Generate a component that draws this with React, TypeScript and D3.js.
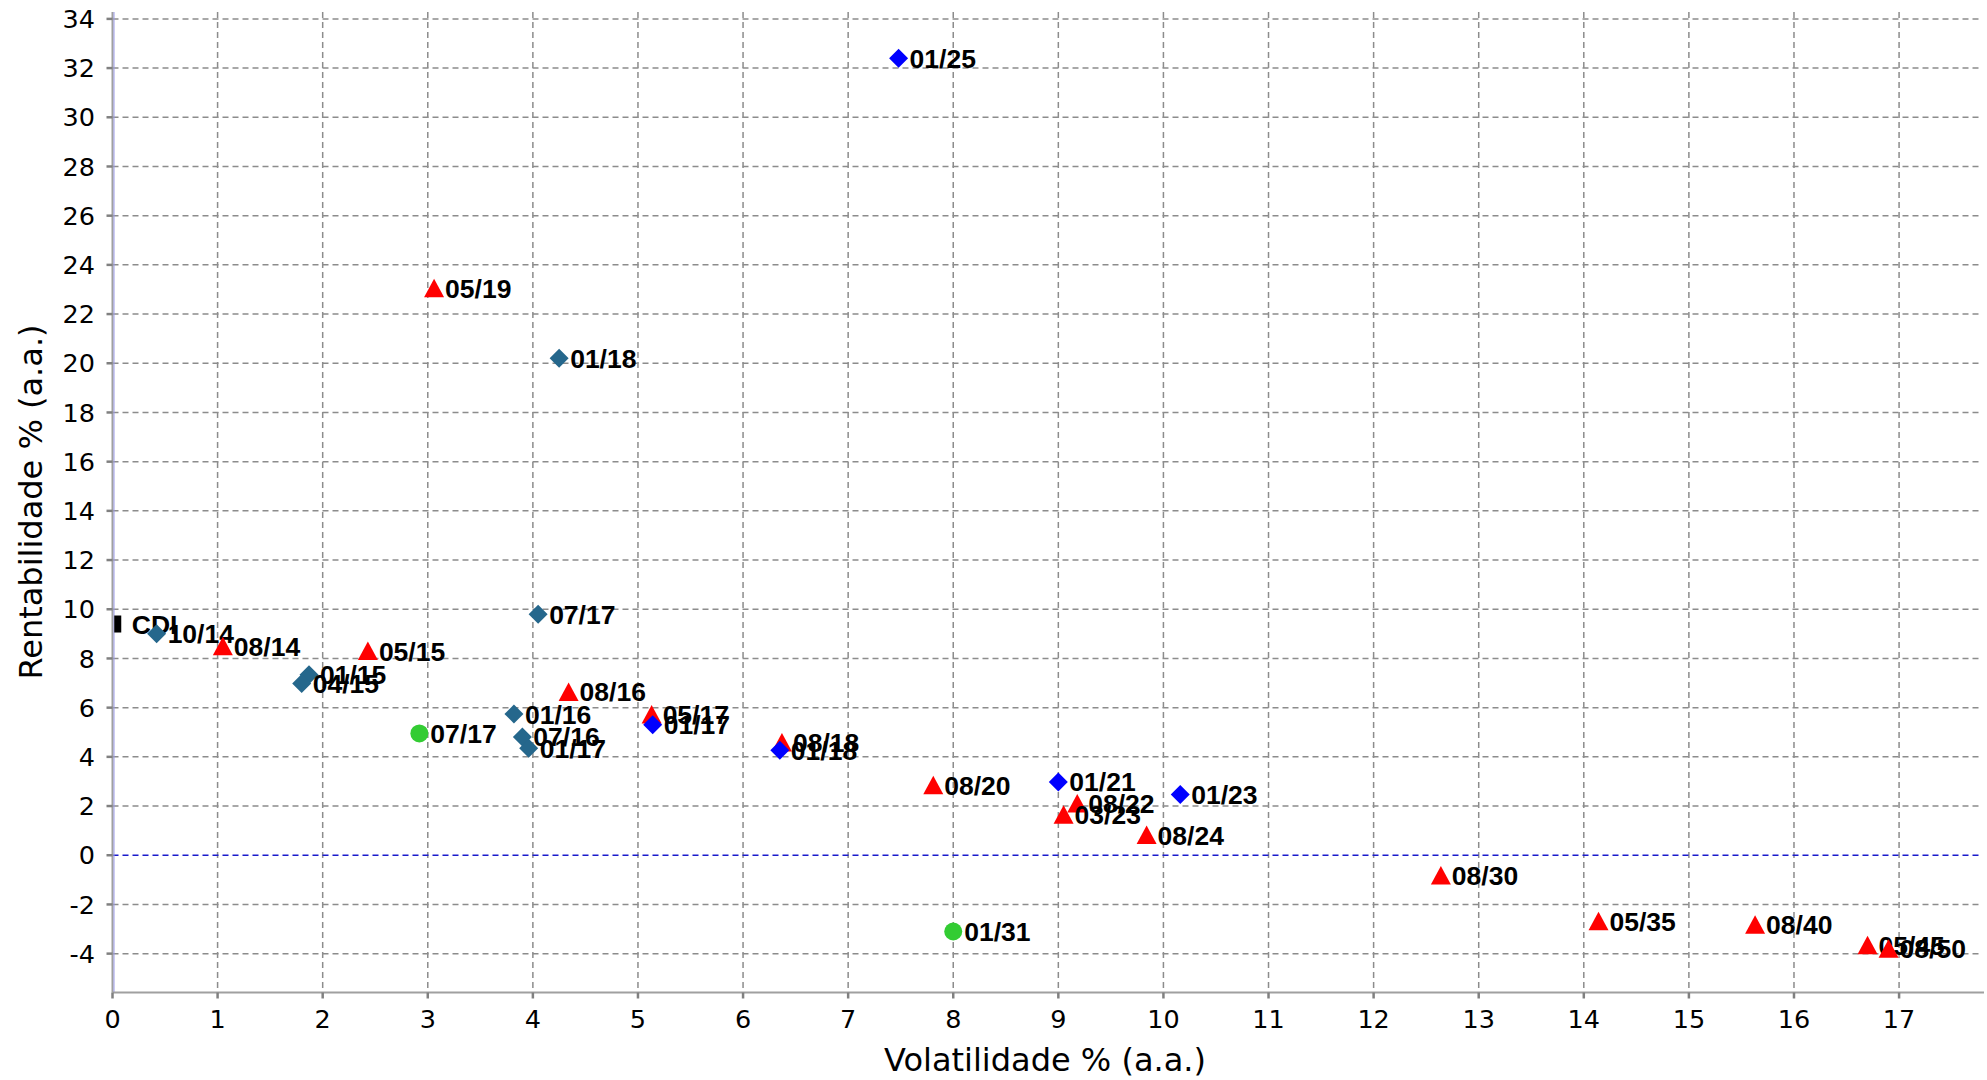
import * as d3 from 'd3';

// Volatilidade x Rentabilidade (a.a.)
const cdiLabels = ['CDI'];
const cdiVol = [0.05];
const cdiRet = [9.4];

const ltnLabels = ['10/14', '01/15', '04/15', '01/16', '07/16', '01/17', '07/17', '01/18'];
const ltnVol = [0.42, 1.87, 1.8, 3.82, 3.9, 3.96, 4.05, 4.25];
const ltnRet = [9.0, 7.34, 6.98, 5.74, 4.81, 4.35, 9.8, 20.2];

const greenLabels = ['07/17', '01/31'];
const greenVol = [2.92, 8.0];
const greenRet = [4.95, -3.1];

const redLabels = ['08/14', '05/15', '08/16', '05/17', '08/18', '05/19', '08/20', '08/22', '03/23', '08/24', '08/30', '05/35', '08/40', '05/45', '08/50'];
const redVol = [1.05, 2.43, 4.34, 5.13, 6.37, 3.06, 7.81, 9.18, 9.05, 9.84, 12.64, 14.14, 15.63, 16.7, 16.9];
const redRet = [8.5, 8.3, 6.64, 5.72, 4.58, 23.05, 2.85, 2.1, 1.65, 0.82, -0.82, -2.68, -2.83, -3.66, -3.8];

const blueLabels = ['01/17', '01/18', '01/21', '01/23', '01/25'];
const blueVol = [5.14, 6.35, 9.0, 10.16, 7.48];
const blueRet = [5.3, 4.27, 2.98, 2.47, 32.4];

const xTicks = d3.range(0, 18);
const yTicks = d3.range(-4, 35, 2);

const width = 1987;
const height = 1080;
const left = 112.5;
const right = 1980;
const top = 12;
const bottom = 992.5;

type Shape = 'rect' | 'diamond' | 'triangle' | 'circle';

export default function App() {
  const x = d3.scaleLinear().domain([0, 17.77]).range([left, right]);
  const y = d3.scaleLinear().domain([-5.58, 34.28]).range([bottom, top]);

  const marker = (shape: Shape, cx: number, cy: number, color: string, key: string) => {
    if (shape === 'rect') return <rect key={key} x={cx - 3.5} y={cy - 8.5} width={7} height={17} fill={color} />;
    if (shape === 'circle') return <circle key={key} cx={cx} cy={cy} r={9} fill={color} />;
    if (shape === 'diamond') {
      const p = d3.path();
      p.moveTo(cx, cy - 9.5); p.lineTo(cx + 9.5, cy); p.lineTo(cx, cy + 9.5); p.lineTo(cx - 9.5, cy); p.closePath();
      return <path key={key} d={p.toString()} fill={color} />;
    }
    const p = d3.path();
    p.moveTo(cx, cy - 9.5); p.lineTo(cx + 10, cy + 9); p.lineTo(cx - 10, cy + 9); p.closePath();
    return <path key={key} d={p.toString()} fill={color} />;
  };

  const series = (name: string, labels: string[], vol: number[], ret: number[], shape: Shape, color: string, dx = 11) => (
    <g key={name}>
      {labels.map((lab, i) => {
        const cx = x(vol[i]);
        const cy = y(ret[i]);
        return (
          <g key={`${name}-${i}`}>
            {marker(shape, cx, cy, color, 'm')}
            <text x={cx + dx} y={cy} dy="0.36em" fontFamily="'Liberation Sans', Arial, sans-serif"
              fontWeight="bold" fontSize={26.5} fill="#000">{lab}</text>
          </g>
        );
      })}
    </g>
  );

  return (
    <div style={{ position: 'absolute', left: 0, top: 0 }}>
      <svg width={width} height={height} style={{ display: 'block', background: '#fff' }}>
        {/* grid */}
        {xTicks.filter(t => t > 0).map(t => (
          <line key={`gx${t}`} x1={x(t)} x2={x(t)} y1={top} y2={bottom} stroke="#8c8c8c" strokeWidth={1.5} strokeDasharray="6,4" />
        ))}
        {yTicks.filter(t => t !== 0).map(t => (
          <line key={`gy${t}`} x1={left} x2={right} y1={y(t)} y2={y(t)} stroke="#8c8c8c" strokeWidth={1.5} strokeDasharray="6,4" />
        ))}
        <line x1={left} x2={right} y1={y(0)} y2={y(0)} stroke="#1a1acc" strokeWidth={1.5} strokeDasharray="6,4" />

        {/* axes */}
        <line x1={left} x2={left} y1={top} y2={bottom} stroke="#a0a0a0" strokeWidth={2} />
        <line x1={left + 1.5} x2={left + 1.5} y1={top} y2={bottom} stroke="#9a9ae8" strokeWidth={1} />
        <line x1={left} x2={right + 4} y1={bottom} y2={bottom} stroke="#a0a0a0" strokeWidth={2} />
        {yTicks.map(t => (
          <g key={`ty${t}`}>
            <line x1={left - 6} x2={left} y1={y(t)} y2={y(t)} stroke="#808080" strokeWidth={2.5} />
            <text x={95} y={y(t)} dy="0.36em" textAnchor="end" fontFamily="'DejaVu Sans', sans-serif" fontSize={25.5} fill="#000">{t}</text>
          </g>
        ))}
        {xTicks.map(t => (
          <g key={`tx${t}`}>
            <line x1={x(t)} x2={x(t)} y1={bottom} y2={bottom + 6} stroke="#808080" strokeWidth={2.5} />
            <text x={x(t)} y={1028} textAnchor="middle" fontFamily="'DejaVu Sans', sans-serif" fontSize={25.5} fill="#000">{t}</text>
          </g>
        ))}
        <text x={1045} y={1071} textAnchor="middle" fontFamily="'DejaVu Sans', sans-serif" fontSize={32} fill="#000">Volatilidade % (a.a.)</text>
        <text transform="translate(42,502) rotate(-90)" textAnchor="middle" fontFamily="'DejaVu Sans', sans-serif" fontSize={32} fill="#000">Rentabilidade % (a.a.)</text>

        {/* points */}
        {series('cdi', cdiLabels, cdiVol, cdiRet, 'rect', '#000', 14)}
        {series('ltn', ltnLabels, ltnVol, ltnRet, 'diamond', '#25678c')}
        {series('green', greenLabels, greenVol, greenRet, 'circle', '#33cc33')}
        {series('red', redLabels, redVol, redRet, 'triangle', '#ff0000')}
        {series('blue', blueLabels, blueVol, blueRet, 'diamond', '#0000ff')}
      </svg>
    </div>
  );
}
